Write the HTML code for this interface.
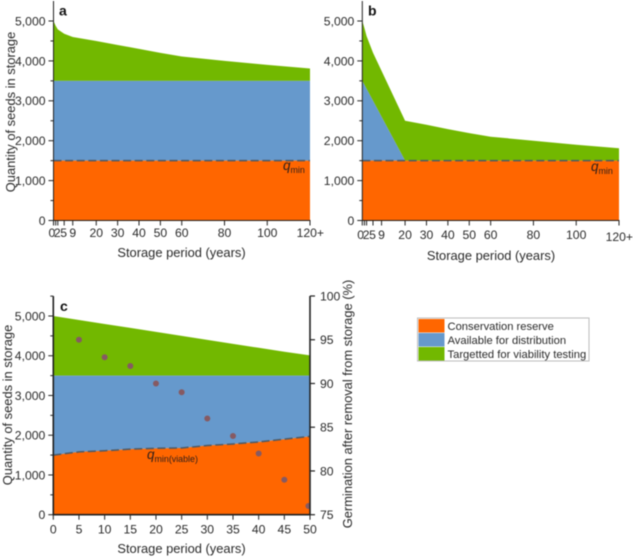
<!DOCTYPE html>
<html lang="en">
<head>
<meta charset="utf-8">
<title>Seed storage quantity charts</title>
<style>
html,body{margin:0;padding:0;background:#fff;width:633px;height:557px;overflow:hidden}
svg{display:block;font-family:"Liberation Sans",sans-serif;fill:#2a2a2a;filter:blur(.45px)}
</style>
</head>
<body>
<svg id="figure" xmlns="http://www.w3.org/2000/svg" width="633" height="557" viewBox="0 0 633 557"></svg>
<script>
// Panel a
const aYears = [0, 1, 2, 5, 9, 20, 30, 40, 50, 60, 80, 100, 120];
const aTotal = [5000, 4880, 4790, 4680, 4600, 4500, 4400, 4300, 4200, 4110, 4000, 3900, 3810];
const aAvailable = [3500, 3500, 3500, 3500, 3500, 3500, 3500, 3500, 3500, 3500, 3500, 3500, 3500];
const aReserve = [1500, 1500, 1500, 1500, 1500, 1500, 1500, 1500, 1500, 1500, 1500, 1500, 1500];
// Panel b
const bYears = [0, 1, 2, 5, 9, 20, 30, 40, 50, 60, 80, 100, 120];
const bTotal = [5000, 4820, 4620, 4205, 3750, 2500, 2400, 2290, 2190, 2100, 2000, 1900, 1810];
const bAvailable = [3500, 3400, 3300, 3000, 2600, 1500, 1500, 1500, 1500, 1500, 1500, 1500, 1500];
const bReserve = [1500, 1500, 1500, 1500, 1500, 1500, 1500, 1500, 1500, 1500, 1500, 1500, 1500];
// Panel c
const cYears = [0, 5, 10, 15, 20, 25, 30, 35, 40, 45, 50];
const cTotal = [5000, 4900, 4800, 4700, 4600, 4500, 4400, 4300, 4200, 4100, 4010];
const cAvailable = [3500, 3500, 3500, 3500, 3500, 3500, 3500, 3500, 3500, 3500, 3500];
const cReserve = [1500, 1580, 1610, 1650, 1670, 1680, 1740, 1780, 1830, 1900, 1970];
const germinationYears = [5, 10, 15, 20, 25, 30, 35, 40, 45, 49.7];
const germinationPercent = [95, 93, 92, 90, 89, 86, 84, 82, 79, 76];
// Axis ticks and labels
const longXTicks = [0, 1, 2, 5, 9, 20, 30, 40, 50, 60, 80, 100, 120];
const longXLabels = ["0", "", "2", "5", "9", "20", "30", "40", "50", "60", "80", "100", "120+"];
const cXTicks = [0, 5, 10, 15, 20, 25, 30, 35, 40, 45, 50];
const cXLabels = ["0", "5", "10", "15", "20", "25", "30", "35", "40", "45", "50"];
const yTicks = [0, 1000, 2000, 3000, 4000, 5000];
const yLabels = ["0", "1,000", "2,000", "3,000", "4,000", "5,000"];
const yMinorTicks = [500, 1500, 2500, 3500, 4500];
const rightTicks = [75, 80, 85, 90, 95, 100];
const rightLabels = ["75", "80", "85", "90", "95", "100"];
const legendLabels = ["Conservation reserve", "Available for distribution", "Targetted for viability testing"];

const ORANGE = "#ff6600", BLUE = "#6699cc", GREEN = "#72b800", INK = "#222";
const svg = document.getElementById("figure");
const NS = "http://www.w3.org/2000/svg";

function add(parent, tag, attrs, text) {
  const el = document.createElementNS(NS, tag);
  for (const k in attrs) el.setAttribute(k, attrs[k]);
  if (text !== undefined) el.textContent = text;
  parent.appendChild(el);
  return el;
}
function named(el, name) {
  
  
  return el;
}
function areaPath(xs, upper, lower, sx, sy) {
  let d = "";
  xs.forEach((x, i) => { d += (i ? "L" : "M") + sx(x).toFixed(2) + " " + sy(upper[i]).toFixed(2); });
  for (let i = xs.length - 1; i >= 0; i--) d += "L" + sx(xs[i]).toFixed(2) + " " + sy(lower[i]).toFixed(2);
  return d + "Z";
}
function linePath(xs, ys, sx, sy) {
  let d = "";
  xs.forEach((x, i) => { d += (i ? "L" : "M") + sx(x).toFixed(2) + " " + sy(ys[i]).toFixed(2); });
  return d;
}

function drawPanel(p) {
  const g = named(add(svg, "g", {}), "panel-" + p.id);
  const sx = v => p.x0 + (v - p.xMin) / (p.xMax - p.xMin) * (p.x1 - p.x0);
  const sy = v => p.y0 - v / 5000 * (p.y0 - p.y5000);
  const zeros = p.years.map(() => 0);

  named(add(g, "path", { d: areaPath(p.years, p.total, p.available, sx, sy), fill: GREEN, stroke: "none" }), "area-viability-testing");
  named(add(g, "path", { d: areaPath(p.years, p.available, p.reserve, sx, sy), fill: BLUE, stroke: "none" }), "area-available-distribution");
  named(add(g, "path", { d: areaPath(p.years, p.reserve, zeros, sx, sy), fill: ORANGE, stroke: "none" }), "area-conservation-reserve");
  named(add(g, "path", { d: linePath(p.years, p.reserve, sx, sy), fill: "none", stroke: "#4d5a66", "stroke-width": 1.5, "stroke-dasharray": "8 3.6" }), "q-min-line");

  // axes
  const yTop = sy(5500);
  named(add(g, "line", { x1: p.x0, x2: p.x0, y1: yTop, y2: p.y0 + 0.5, stroke: INK, "stroke-width": p.axisW }), "y-axis");
  named(add(g, "line", { x1: p.x0 - 0.5, x2: p.x1 + 0.5, y1: p.y0, y2: p.y0, stroke: INK, "stroke-width": p.axisW }), "x-axis");

  yTicks.forEach((t, i) => {
    named(add(g, "line", { x1: p.x0 - 5, x2: p.x0, y1: sy(t), y2: sy(t), stroke: INK, "stroke-width": 1 }), "y-tick");
    named(add(g, "text", { x: p.x0 - 8, y: sy(t) + 4.4, "text-anchor": "end", "font-size": 12.2 }, yLabels[i]), "y-tick-label");
  });
  yMinorTicks.forEach(t => {
    named(add(g, "line", { x1: p.x0 - 3, x2: p.x0, y1: sy(t), y2: sy(t), stroke: INK, "stroke-width": 1 }), "y-minor-tick");
  });
  if (p.topTick) {
    named(add(g, "line", { x1: p.x0 - 3, x2: p.x0, y1: yTop, y2: yTop, stroke: INK, "stroke-width": 1 }), "y-top-tick");
  }

  p.xTicks.forEach((t, i) => {
    named(add(g, "line", { x1: sx(t), x2: sx(t), y1: p.y0, y2: p.y0 + 5, stroke: INK, "stroke-width": 1 }), "x-tick");
    const lab = p.xLabels[i];
    if (!lab) return;
    const plus = lab.endsWith("+");
    named(add(g, "text", {
      x: plus ? sx(t) - 13.4 : sx(t) - (p.id !== "c" && t === 0 ? 1.6 : (p.id !== "c" && t < 9 ? 0.5 : 0)),
      y: (plus ? p.plusY : p.xLabelY),
      "text-anchor": plus ? "start" : "middle",
      "font-size": 12.2
    }, lab), "x-tick-label");
  });

  named(add(g, "text", { x: p.xTitleX, y: p.xTitleY, "text-anchor": "middle", "font-size": 12.9 }, "Storage period (years)"), "x-axis-title");
  if (p.yTitleX) {
    named(add(g, "text", {
      transform: "translate(" + p.yTitleX + " " + p.yTitleY + ") rotate(-90)",
      "text-anchor": "middle", "font-size": 12.9
    }, "Quantity of seeds in storage"), "y-axis-title");
  }
  named(add(g, "text", { x: p.letterX, y: p.letterY, "font-size": 14, "font-weight": "bold", fill: "#111" }, p.id), "panel-letter");

  const q = named(add(g, "text", { x: p.qX, y: p.qY, "font-size": 13.5, fill: "#33201a" }), "q-min-label");
  add(q, "tspan", { "font-style": "italic" }, "q");
  add(q, "tspan", { "font-size": 8.9, dy: 3 }, p.qSub);
  return { g, sx, sy };
}

const panelA = drawPanel({
  id: "a", years: aYears, total: aTotal, available: aAvailable, reserve: aReserve,
  xMin: 0, xMax: 120, x0: 53.5, x1: 310, y0: 220.5, y5000: 21, axisW: 1,
  xTicks: longXTicks, xLabels: longXLabels, xLabelY: 237, plusY: 237,
  xTitleX: 181.5, xTitleY: 257, yTitleX: 15, yTitleY: 112,
  letterX: 59, letterY: 15.5, qX: 283, qY: 170, qSub: "min"
});
const panelB = drawPanel({
  id: "b", years: bYears, total: bTotal, available: bAvailable, reserve: bReserve,
  xMin: 0, xMax: 120, x0: 362.3, x1: 619, y0: 220.5, y5000: 21, axisW: 1,
  xTicks: longXTicks, xLabels: longXLabels, xLabelY: 239, plusY: 241,
  xTitleX: 491, xTitleY: 260, yTitleX: 0, yTitleY: 0,
  letterX: 368, letterY: 15.5, qX: 591, qY: 171, qSub: "min"
});
const panelC = drawPanel({
  id: "c", years: cYears, total: cTotal, available: cAvailable, reserve: cReserve,
  xMin: 0, xMax: 50, x0: 53.3, x1: 310, y0: 514.7, y5000: 316, axisW: 1.6, topTick: true,
  xTicks: cXTicks, xLabels: cXLabels, xLabelY: 533.5, plusY: 533.5,
  xTitleX: 181.5, xTitleY: 553, yTitleX: 12, yTitleY: 405,
  letterX: 60, letterY: 311, qX: 147, qY: 459, qSub: "min(viable)"
});

// Germination points and right axis (panel c)
const sR = v => 514.7 - (v - 75) / 25 * (514.7 - 296);
const clip = add(svg, "clipPath", { id: "c-plot-clip" });
add(clip, "rect", { x: 53.3, y: 296, width: 256.2, height: 219 });
const pointsGroup = named(add(panelC.g, "g", { "clip-path": "url(#c-plot-clip)" }), "germination-points");
germinationYears.forEach((yr, i) => {
  named(add(pointsGroup, "circle", { cx: panelC.sx(yr), cy: sR(germinationPercent[i]), r: 3, fill: "#865a62" }), "germination-point");
});
named(add(panelC.g, "line", { x1: 310, x2: 310, y1: 296, y2: 515.3, stroke: INK, "stroke-width": 1.6 }), "right-y-axis");
rightTicks.forEach((t, i) => {
  named(add(panelC.g, "line", { x1: 310, x2: 315, y1: sR(t), y2: sR(t), stroke: INK, "stroke-width": 1.2 }), "right-y-tick");
  named(add(panelC.g, "text", { x: 320, y: sR(t) + 4.4, "font-size": 12.2 }, rightLabels[i]), "right-y-tick-label");
});
named(add(panelC.g, "text", {
  transform: "translate(352 404) rotate(-90)", "text-anchor": "middle", "font-size": 12.9
}, "Germination after removal from storage (%)"), "right-y-axis-title");

// Legend
const legend = named(add(svg, "g", {}), "legend");
named(add(legend, "rect", { x: 417.5, y: 318, width: 171.5, height: 43, fill: "#fff", stroke: "#bdbdbd", "stroke-width": 1 }), "legend-frame");
const legendColors = [ORANGE, BLUE, GREEN];
legendLabels.forEach((label, i) => {
  const entry = named(add(legend, "g", {}), "legend-entry");
  named(add(entry, "rect", { x: 418.5, y: 319 + i * 14, width: 26, height: 13.5, fill: legendColors[i] }), "legend-swatch");
  named(add(entry, "text", { x: 447.5, y: 330 + i * 14, "font-size": 11.2 }, label), "legend-label");
});
</script>
</body>
</html>
